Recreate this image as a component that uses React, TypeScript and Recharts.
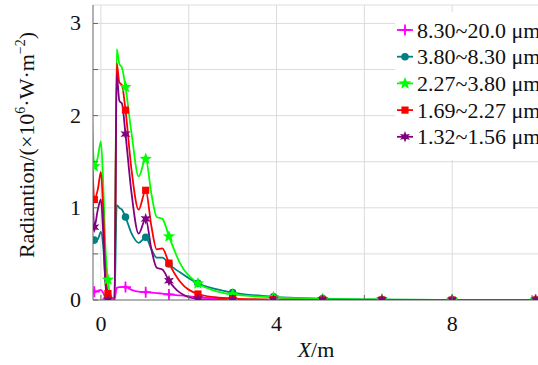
import React from 'react';
import { LineChart, Line, XAxis, YAxis, CartesianGrid } from 'recharts';

// positions along X (m) where the curves were sampled
const X_M = [-0.2, -0.15, -0.07, 0, 0.05, 0.1, 0.16, 0.24, 0.31, 0.36, 0.42, 0.48, 0.56, 0.7, 0.86, 1.02, 1.15, 1.27, 1.4, 1.55, 1.8, 2.21, 2.6, 3.0, 3.93, 5.05, 6.4, 8.0, 9.9];

const BAND_8_20 = [0.09, 0.09, 0.1, 0.11, 0.08, 0.03, 0.01, 0, 0, 0.13, 0.14, 0.14, 0.14, 0.11, 0.09, 0.085, 0.08, 0.075, 0.07, 0.06, 0.05, 0.03, 0.015, 0.005, 0, 0, 0, 0, 0];
const BAND_38_83 = [0.7, 0.65, 0.66, 0.74, 0.6, 0.25, 0.04, 0, 0, 1.03, 1.0, 0.98, 0.9, 0.72, 0.62, 0.68, 0.55, 0.46, 0.46, 0.39, 0.3, 0.18, 0.12, 0.08, 0.035, 0.015, 0.005, 0, 0];
const BAND_227_38 = [1.95, 1.45, 1.55, 1.72, 1.3, 0.6, 0.22, 0.03, 0.02, 2.72, 2.56, 2.52, 2.31, 1.8, 1.34, 1.53, 1.15, 0.9, 0.88, 0.69, 0.4, 0.18, 0.1, 0.06, 0.03, 0.01, 0.005, 0, 0];
const BAND_169_227 = [1.62, 1.09, 1.2, 1.39, 1.0, 0.35, 0.07, 0.01, 0, 2.57, 2.36, 2.33, 2.06, 1.4, 0.98, 1.19, 0.8, 0.55, 0.56, 0.4, 0.2, 0.065, 0.03, 0.015, 0.005, 0, 0, 0, 0];
const BAND_132_156 = [1.35, 0.79, 0.98, 1.09, 0.75, 0.2, 0, 0, 0, 2.45, 2.16, 2.13, 1.8, 1.15, 0.72, 0.88, 0.55, 0.35, 0.33, 0.21, 0.08, 0.01, 0, 0, 0, 0, 0, 0, 0];

// sample positions that carry a marker symbol
const MARK_AT = [-0.15, 0.16, 0.56, 1.02, 1.55, 2.21, 3.0, 3.93, 5.05, 6.4, 8.0, 9.9];

const X_TICKS = [0, 2, 4, 6, 8, 10];
const X_LABELS = [0, 4, 8];
const Y_TICKS = [0, 0.5, 1, 1.5, 2, 2.5, 3];
const Y_LABELS = [0, 1, 2, 3];

const SERIES = [
  { key: 'b1', name: '8.30~20.0 μm', color: '#ff00ff', shape: 'plus', values: BAND_8_20 },
  { key: 'b2', name: '3.80~8.30 μm', color: '#008080', shape: 'circle', values: BAND_38_83 },
  { key: 'b3', name: '2.27~3.80 μm', color: '#00ff00', shape: 'star5', values: BAND_227_38 },
  { key: 'b4', name: '1.69~2.27 μm', color: '#ff0000', shape: 'square', values: BAND_169_227 },
  { key: 'b5', name: '1.32~1.56 μm', color: '#800080', shape: 'star6', values: BAND_132_156 },
];

const rows = X_M.map((x, i) => {
  const row: Record<string, number> = { x };
  SERIES.forEach((s) => (row[s.key] = s.values[i]));
  return row;
});

const TXT = { fontFamily: 'Liberation Serif', fontSize: 22, fill: '#111' };

function starPath(cx: number, cy: number, n: number, ro: number, ri: number) {
  const pts: string[] = [];
  for (let k = 0; k < n * 2; k++) {
    const r = k % 2 === 0 ? ro : ri;
    const a = -Math.PI / 2 + (k * Math.PI) / n;
    pts.push(`${cx + r * Math.cos(a)},${cy + r * Math.sin(a)}`);
  }
  return pts.join(' ');
}

function Marker({ shape, cx, cy, color }: { shape: string; cx: number; cy: number; color: string }) {
  switch (shape) {
    case 'plus':
      return (
        <g>
          <path d={`M${cx - 5.5},${cy}H${cx + 5.5}M${cx},${cy - 5.5}V${cy + 5.5}`} stroke={color} strokeWidth={1.8} />
          <polygon points={starPath(cx, cy, 4, 3.5, 1.6)} fill={color} />
        </g>
      );
    case 'circle':
      return <circle cx={cx} cy={cy} r={3.8} fill={color} />;
    case 'star5':
      return <polygon points={starPath(cx, cy, 5, 6.5, 2.8)} fill={color} />;
    case 'square':
      return <rect x={cx - 3.6} y={cy - 3.6} width={7.2} height={7.2} fill={color} />;
    default:
      return <polygon points={starPath(cx, cy, 6, 5.8, 2.6)} fill={color} />;
  }
}

function BottomTick(props: any) {
  const { x, y, payload } = props;
  const v = payload.value;
  return (
    <g>
      <line x1={x} x2={x} y1={y} y2={y - 5} stroke="#666" />
      {X_LABELS.includes(v) && (
        <text x={x} y={y + 31} textAnchor="middle" style={TXT}>
          {v}
        </text>
      )}
    </g>
  );
}

function TopTick(props: any) {
  const { x, y } = props;
  return <line x1={x} x2={x} y1={y} y2={y + 5} stroke="#666" />;
}

function LeftTick(props: any) {
  const { x, y, payload } = props;
  const v = payload.value;
  return (
    <g>
      <line x1={x} x2={x + 5} y1={y} y2={y} stroke="#666" />
      {Y_LABELS.includes(v) && (
        <text x={x - 12} y={y + 7} textAnchor="end" style={TXT}>
          {v}
        </text>
      )}
    </g>
  );
}

function RightTick(props: any) {
  const { x, y } = props;
  return <line x1={x} x2={x - 5} y1={y} y2={y} stroke="#666" />;
}

function YTitle() {
  return (
    <text x={34} y={145} transform="rotate(-90, 34, 145)" textAnchor="middle" style={TXT}>
      Radiantion/(×10
      <tspan style={{ fontSize: 14 }} dy={-9}>6</tspan>
      <tspan dy={9}>·W·m</tspan>
      <tspan style={{ fontSize: 14 }} dy={-9}>−2</tspan>
      <tspan dy={9}>)</tspan>
    </text>
  );
}

function XTitle() {
  return (
    <text x={316} y={357} textAnchor="middle" style={TXT}>
      <tspan style={{ fontStyle: 'italic' }}>X</tspan>/m
    </text>
  );
}

function LegendBox() {
  return (
    <div style={{ position: 'absolute', left: 395, top: 12, width: 143, height: 148, background: '#fff' }}>
      <svg width={143} height={148}>
        {SERIES.map((s, i) => {
          const cy = 18 + i * 26.7;
          return (
            <g key={s.key}>
              <line x1={2} x2={18} y1={cy} y2={cy} stroke={s.color} strokeWidth={1.8} />
              <Marker shape={s.shape} cx={10} cy={cy} color={s.color} />
              <text x={22} y={cy + 7.5} style={TXT}>
                {s.name}
              </text>
            </g>
          );
        })}
      </svg>
    </div>
  );
}

export default function App() {
  return (
    <div style={{ position: 'relative', width: 538, height: 365, overflow: 'hidden', background: '#fff' }}>
      <style>{'body{margin:0}'}</style>
      <LineChart width={540} height={365} data={rows} margin={{ top: 5, right: 0, bottom: 0, left: 0 }}>
        <CartesianGrid stroke="#dcdcdc" strokeWidth={1} />
        <XAxis
          dataKey="x"
          type="number"
          domain={[-0.18, 10]}
          allowDataOverflow
          ticks={X_TICKS}
          height={65}
          tickSize={0}
          tickMargin={0}
          axisLine={{ stroke: '#777' }}
          tick={<BottomTick />}
        />
        <XAxis
          xAxisId="top"
          orientation="top"
          dataKey="x"
          type="number"
          domain={[-0.18, 10]}
          allowDataOverflow
          ticks={X_TICKS}
          height={0}
          tickSize={0}
          tickMargin={0}
          axisLine={{ stroke: '#333' }}
          tick={<TopTick />}
        />
        <YAxis
          type="number"
          domain={[0, 3.2]}
          allowDataOverflow
          ticks={Y_TICKS}
          width={93}
          tickSize={0}
          tickMargin={0}
          axisLine={{ stroke: '#777' }}
          tick={<LeftTick />}
        />
        <YAxis
          yAxisId="right"
          orientation="right"
          type="number"
          domain={[0, 3.2]}
          ticks={Y_TICKS}
          width={0}
          tickSize={0}
          tickMargin={0}
          axisLine={{ stroke: '#777' }}
          tick={<RightTick />}
        />
        {SERIES.map((s) => (
          <Line
            key={s.key}
            dataKey={s.key}
            type="monotone"
            stroke={s.color}
            strokeWidth={1.8}
            isAnimationActive={false}
            activeDot={false}
            dot={(p: any) => {
              const { cx, cy, payload, index } = p;
              if (cx == null || !MARK_AT.includes(payload.x)) return <g key={`${s.key}-${index}`} />;
              return (
                <g key={`${s.key}-${index}`}>
                  <Marker shape={s.shape} cx={cx} cy={cy} color={s.color} />
                </g>
              );
            }}
          />
        ))}
        <YTitle />
        <XTitle />
      </LineChart>
      <LegendBox />
    </div>
  );
}
